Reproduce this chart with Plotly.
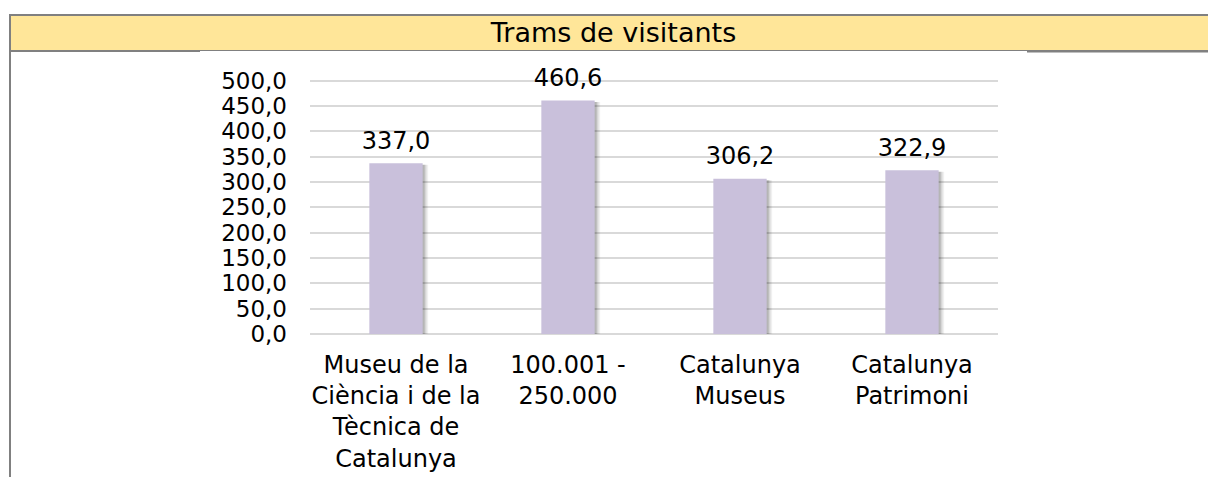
import plotly.graph_objects as go

# values
categories = [
    "Museu de la<br>Ciència i de la<br>Tècnica de<br>Catalunya",
    "100.001 -<br>250.000",
    "Catalunya<br>Museus",
    "Catalunya<br>Patrimoni",
]
visitants = [337.0, 460.6, 306.2, 322.9]
y_ticks = [0, 50, 100, 150, 200, 250, 300, 350, 400, 450, 500]

W, H = 1208, 477
# plot area in pixels (y range 0..505 so the 500 grid line is fully drawn)
PL, PR, PT, PB = 310, 998, 78, 334

FONT = "DejaVu Sans"
BAR_W = 0.31

fig = go.Figure()

# soft shadow to the right of each bar
for dx, alpha in [(0.012, 0.15), (0.022, 0.11), (0.032, 0.06)]:
    fig.add_trace(go.Bar(
        x=categories, y=visitants, base=-3,
        width=BAR_W, offset=-BAR_W / 2 + dx,
        marker=dict(color=f"rgba(0,0,0,{alpha})", line_width=0),
        hoverinfo="skip", showlegend=False, cliponaxis=False,
    ))

fig.add_trace(go.Bar(
    x=categories, y=visitants,
    width=BAR_W, offset=-BAR_W / 2,
    marker=dict(color="#C9C0DB", line_width=0),
    showlegend=False, cliponaxis=False,
))

# value labels above the bars (invisible marker just pushes the text up)
fig.add_trace(go.Scatter(
    x=categories, y=visitants, mode="markers+text",
    text=[f"{v:.1f}".replace(".", ",") for v in visitants],
    textposition="top center",
    marker=dict(size=12, color="rgba(0,0,0,0)"),
    textfont=dict(family=FONT, size=24, color="black"),
    hoverinfo="skip", showlegend=False, cliponaxis=False,
))


def px_x(p):
    return (p - PL) / (PR - PL)


def px_y(p):
    return (PB - p) / (PB - PT)


def hline(x0, x1, y, w):
    return dict(type="line", xref="paper", yref="paper",
                x0=px_x(x0), x1=px_x(x1), y0=px_y(y), y1=px_y(y),
                line=dict(color="#808080", width=w))


shapes = [
    # title bar
    dict(type="rect", xref="paper", yref="paper",
         x0=px_x(9.5), x1=px_x(1210), y0=px_y(50.5), y1=px_y(14.5),
         fillcolor="#FFE699", line_width=0, layer="below"),
    hline(9, 1210, 15, 2),
    hline(9, 1210, 50.5, 1),
    hline(9, 200, 51, 2),
    hline(1027, 1210, 51.5, 2),
    # left frame line
    dict(type="line", xref="paper", yref="paper",
         x0=px_x(10), x1=px_x(10), y0=px_y(14), y1=px_y(480),
         line=dict(color="#808080", width=2)),
]

fig.update_layout(
    width=W, height=H,
    margin=dict(l=PL, r=W - PR, t=PT, b=H - PB, pad=0),
    paper_bgcolor="white", plot_bgcolor="white",
    barmode="overlay",
    separators=",.",
    font=dict(family=FONT, size=24, color="black"),
    title=dict(text="Trams de visitants", xref="container", yref="container",
               x=613.5 / W, y=1 - 33 / H, xanchor="center", yanchor="middle",
               font=dict(family=FONT, size=27, color="black")),
    shapes=shapes,
    xaxis=dict(showgrid=False, showline=False, ticks="", zeroline=False,
               ticklabelstandoff=14, automargin=False,
               tickfont=dict(family=FONT, size=24, color="black")),
    yaxis=dict(range=[0, 505], tickvals=y_ticks, tickformat=".1f",
               showgrid=True, gridcolor="#D9D9D9", gridwidth=1.5,
               zeroline=True, zerolinecolor="#D9D9D9", zerolinewidth=1.5,
               showline=False, ticks="", ticklabelstandoff=22, automargin=False,
               tickfont=dict(family=FONT, size=23, color="black")),
)

fig.write_html("out.html", config={"displayModeBar": False},
               post_script="document.body.style.margin='0';")
